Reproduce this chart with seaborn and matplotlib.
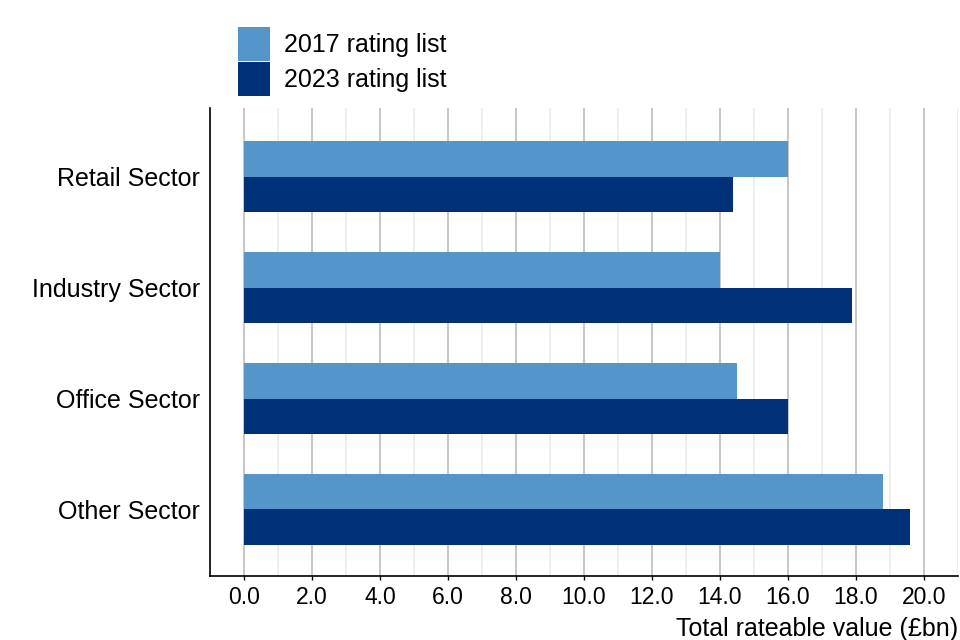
import matplotlib
matplotlib.use("Agg")
import matplotlib.pyplot as plt
import seaborn as sns
import pandas as pd
from matplotlib.ticker import MultipleLocator, FormatStrFormatter

sectors = ["Retail Sector", "Industry Sector", "Office Sector", "Other Sector"]
lists = ["2017 rating list", "2023 rating list"]
values_2017 = [16.0, 14.0, 14.5, 18.8]
values_2023 = [14.4, 17.9, 16.0, 19.6]
colours = ["#5596ca", "#003078"]

df = pd.DataFrame({
    "Sector": sectors * 2,
    "List": [lists[0]] * 4 + [lists[1]] * 4,
    "Value": values_2017 + values_2023,
})

sns.set_style("white")
plt.rcParams["font.family"] = ["Liberation Sans", "DejaVu Sans"]
plt.rcParams["text.color"] = "black"
plt.rcParams["axes.labelcolor"] = "black"

fig = plt.figure(figsize=(9.6, 6.4), dpi=100)
ax = fig.add_axes([0.21875, 0.1, 0.779, 0.73125])

sns.barplot(data=df, x="Value", y="Sector", hue="List", orient="h",
            palette=colours, width=0.64, saturation=1, linewidth=0,
            ax=ax, zorder=3)

ax.set_xlim(-1, 21)
ax.set_ylim(3.6, -0.62)
ax.xaxis.set_major_locator(MultipleLocator(2))
ax.xaxis.set_minor_locator(MultipleLocator(1))
ax.xaxis.set_major_formatter(FormatStrFormatter("%.1f"))
ax.grid(axis="x", which="major", color="#c8c8c8", linewidth=1.5, zorder=0)
ax.grid(axis="x", which="minor", color="#ebebeb", linewidth=1.2, zorder=0)
ax.set_axisbelow(True)

for s in ["top", "right"]:
    ax.spines[s].set_visible(False)
for s in ["left", "bottom"]:
    ax.spines[s].set_color("black")
    ax.spines[s].set_linewidth(1.2)

ax.tick_params(axis="x", which="major", bottom=True, length=3, width=1,
               pad=4, labelsize=16.5, colors="black")
ax.tick_params(axis="x", which="minor", bottom=False)
ax.tick_params(axis="y", left=False, length=0, labelsize=18, colors="black", pad=7)
ax.set_ylabel("")
ax.set_xlabel("Total rateable value (£bn)", loc="right", fontsize=18, labelpad=6)

handles, labels = ax.get_legend_handles_labels()
ax.get_legend().remove()
fig.legend(handles, labels, loc="upper left", bbox_to_anchor=(0.248, 0.958),
           frameon=False, fontsize=18, handlelength=1.28, handleheight=1.72,
           labelspacing=0.03, borderpad=0, borderaxespad=0, handletextpad=0.56)

fig.savefig("out.png", dpi=100)
